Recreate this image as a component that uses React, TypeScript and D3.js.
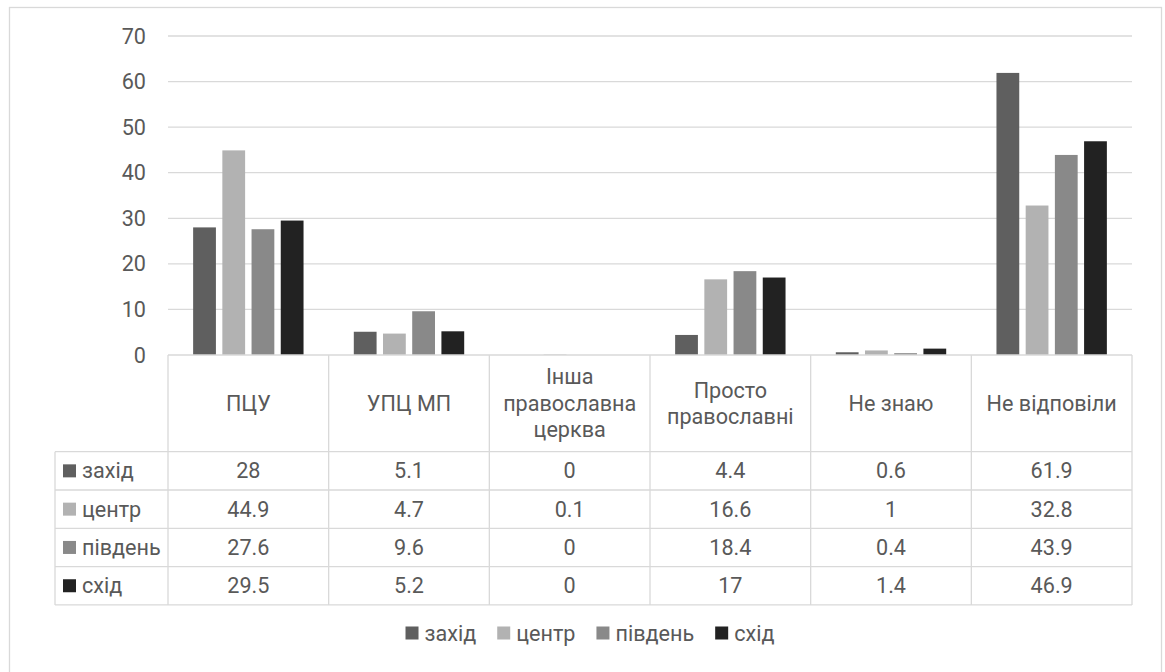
import React, { useEffect, useRef } from "react";
import * as d3 from "d3";

const categories: string[][] = [
  ["ПЦУ"],
  ["УПЦ МП"],
  ["Інша", "православна", "церква"],
  ["Просто", "православні"],
  ["Не знаю"],
  ["Не відповіли"],
];
const seriesNames = ["захід", "центр", "південь", "схід"];
const zakhid = [28, 5.1, 0, 4.4, 0.6, 61.9];
const tsentr = [44.9, 4.7, 0.1, 16.6, 1, 32.8];
const pivden = [27.6, 9.6, 0, 18.4, 0.4, 43.9];
const skhid = [29.5, 5.2, 0, 17, 1.4, 46.9];
const yTicks = [0, 10, 20, 30, 40, 50, 60, 70];
const colors = ["#5f5f5f", "#b2b2b2", "#898989", "#222222"];

const FONT = "Roboto, sans-serif";
const FS = 21.6;
const TXT = "#595959";
const GRID = "#d9d9d9";

export default function App() {
  const ref = useRef<SVGSVGElement>(null);
  useEffect(() => {
    document.body.style.margin = "0";
    const svg = d3.select(ref.current);
    svg.selectAll("*").remove();
    const W = 1165, H = 672;
    const left = 168, right = 1132, top = 36, zeroY = 355;
    const series = [zakhid, tsentr, pivden, skhid];

    svg.append("rect").attr("width", W).attr("height", H).attr("fill", "#fff");
    svg.append("rect").attr("x", 9.5).attr("y", 7.5).attr("width", 1152).attr("height", 700)
      .attr("fill", "none").attr("stroke", GRID).attr("stroke-width", 1.3);

    const y = d3.scaleLinear().domain([0, 70]).range([zeroY, top]);
    const catIdx = categories.map((_, i) => String(i));
    const x = d3.scaleBand<string>().domain(catIdx).range([left, right]);
    const inner = d3.scaleBand<string>().domain(seriesNames).range([0, 110.4]).paddingInner(0.22);
    const groupOff = (x.bandwidth() - 110.4) / 2;

    // gridlines
    svg.append("g").selectAll("line").data(yTicks.filter((t) => t > 0)).join("line")
      .attr("x1", left).attr("x2", right)
      .attr("y1", (d) => y(d)).attr("y2", (d) => y(d))
      .attr("stroke", GRID).attr("stroke-width", 1.3);

    // y labels
    svg.append("g").selectAll("text").data(yTicks).join("text")
      .attr("x", 146).attr("y", (d) => y(d)).attr("dy", "0.35em")
      .attr("text-anchor", "end").attr("font-family", FONT).attr("font-size", FS)
      .attr("fill", TXT).text((d) => String(d));

    // bars
    series.forEach((vals, si) => {
      svg.append("g").selectAll("rect").data(vals).join("rect")
        .attr("x", (_, i) => (x(String(i)) as number) + groupOff + (inner(seriesNames[si]) as number))
        .attr("width", inner.bandwidth())
        .attr("y", (d) => y(d))
        .attr("height", (d) => zeroY - y(d))
        .attr("fill", colors[si]);
    });

    // table
    const tableLeft = 55, headerBottom = 451.7, rowH = 38.3;
    const tableBottom = headerBottom + rowH * 4;
    const g = svg.append("g").attr("stroke", GRID).attr("stroke-width", 1.3);
    g.append("line").attr("x1", left).attr("x2", right).attr("y1", zeroY).attr("y2", zeroY);
    for (let r = 0; r <= 4; r++) {
      const yy = headerBottom + r * rowH;
      g.append("line").attr("x1", tableLeft).attr("x2", right).attr("y1", yy).attr("y2", yy);
    }
    g.append("line").attr("x1", tableLeft).attr("x2", tableLeft).attr("y1", headerBottom).attr("y2", tableBottom);
    for (let c = 0; c <= categories.length; c++) {
      const xx = left + c * x.bandwidth();
      g.append("line").attr("x1", xx).attr("x2", xx).attr("y1", zeroY).attr("y2", tableBottom);
    }

    // header labels
    const lineH = 26.5;
    categories.forEach((lines, i) => {
      const cx = (x(String(i)) as number) + x.bandwidth() / 2;
      const cy = (zeroY + headerBottom) / 2;
      const t = svg.append("text").attr("text-anchor", "middle").attr("font-family", FONT)
        .attr("font-size", FS).attr("fill", TXT);
      lines.forEach((ln, li) => {
        t.append("tspan").attr("x", cx)
          .attr("y", cy + (li - (lines.length - 1) / 2) * lineH).attr("dy", "0.35em").text(ln);
      });
    });

    // rows
    series.forEach((vals, si) => {
      const cy = headerBottom + rowH * (si + 0.5);
      svg.append("rect").attr("x", 63).attr("y", cy - 6.5).attr("width", 13).attr("height", 13)
        .attr("fill", colors[si]);
      svg.append("text").attr("x", 82).attr("y", cy).attr("dy", "0.35em")
        .attr("font-family", FONT).attr("font-size", FS).attr("fill", TXT).text(seriesNames[si]);
      svg.append("g").selectAll("text").data(vals).join("text")
        .attr("x", (_, i) => (x(String(i)) as number) + x.bandwidth() / 2)
        .attr("y", cy).attr("dy", "0.35em").attr("text-anchor", "middle")
        .attr("font-family", FONT).attr("font-size", FS).attr("fill", TXT)
        .text((d) => String(d));
    });

    // legend
    const lg = svg.append("g");
    let cursor = 0;
    const legY = 633;
    seriesNames.forEach((name, si) => {
      lg.append("rect").attr("x", cursor).attr("y", legY - 6.5).attr("width", 13).attr("height", 13)
        .attr("fill", colors[si]);
      const t = lg.append("text").attr("x", cursor + 19).attr("y", legY).attr("dy", "0.35em")
        .attr("font-family", FONT).attr("font-size", FS).attr("fill", TXT).text(name);
      const w = (t.node() as SVGTextElement).getComputedTextLength();
      cursor += 19 + w + 21;
    });
    const totalW = cursor - 21;
    lg.attr("transform", `translate(${590 - totalW / 2},0)`);
  }, []);
  return <svg ref={ref} width={1165} height={672} style={{ display: "block" }} />;
}
